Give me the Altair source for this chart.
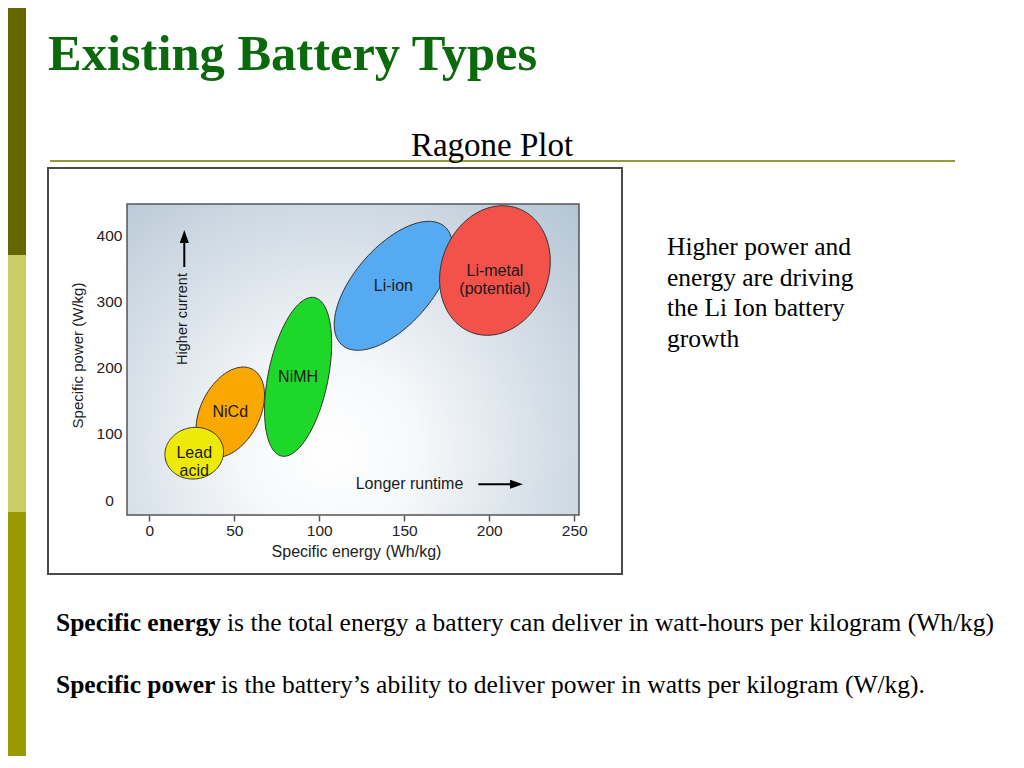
import numpy as np
import pandas as pd
import altair as alt

# ---- data ----
batteries = ["NiCd", "Lead acid", "NiMH", "Li-ion", "Li-metal (potential)"]
labels = ["NiCd", "Lead\nacid", "NiMH", "Li-ion", "Li-metal\n(potential)"]
energy_min = [27.5, 9.2, 67.8, 108.8, 170.8]     # Wh/kg
energy_max = [67.8, 43.7, 107.3, 178.4, 235.9]
power_min = [64.7, 31.9, 66.2, 226.4, 249.1]     # W/kg
power_max = [201.1, 110.0, 306.5, 421.3, 444.9]
tilt = [0.38, 0.05, 0.42, 0.60, 0.14]           # correlation of the region
x_ticks = [0, 50, 100, 150, 200, 250]
y_ticks = [0, 100, 200, 300, 400]

slide_title = "Existing Battery Types"
chart_title = "Ragone Plot"
side_note = ["Higher power and", "energy are driving", "the Li Ion battery", "growth"]
def1_bold, def1_rest = "Specific energy", "is the total energy a battery can deliver in watt-hours per kilogram (Wh/kg)"
def2_bold, def2_rest = "Specific power", "is the battery\u2019s ability to deliver power in watts per kilogram (W/kg)."

fills = ["#FAA800", "#EEEA08", "#1ED829", "#56AAF2", "#F2524A"]

W, H = 452, 311
SANS = "Liberation Sans"
SERIF = "Liberation Serif"

xscale = alt.Scale(domain=[-13.1, 252.8], nice=False, zero=False)
yscale = alt.Scale(domain=[-22.5, 447.5], nice=False, zero=False)

xaxis = alt.Axis(values=x_ticks, grid=False, domain=False, ticks=True, tickSize=6,
                 tickColor="#555555", tickWidth=1.5, labelFont=SANS, labelFontSize=15.5,
                 labelColor="#222222", labelPadding=9, labelBaseline="middle",
                 title="Specific energy (Wh/kg)", titleFont=SANS, titleFontSize=16,
                 titleFontWeight="normal", titleColor="#222222", titleX=229, titleY=36,
                 titleBaseline="middle", titleAlign="center")
yaxis = alt.Axis(values=y_ticks, grid=False, domain=False, ticks=False, tickSize=0,
                 labelFont=SANS, labelFontSize=15.5, labelColor="#222222", labelPadding=18,
                 labelAlign="center", labelBaseline="middle",
                 title="Specific power (W/kg)", titleFont=SANS, titleFontSize=15,
                 titleFontWeight="normal", titleColor="#222222", titleX=-50, titleY=151,
                 titleAngle=270, titleBaseline="middle", titleAlign="center")

one = pd.DataFrame({"a": [0]})

# background gradient of the plot area
bg = alt.Chart(one).mark_rect(
    fill=alt.RadialGradient(
        gradient="radial", x1=0.45, y1=0.7, r1=0.0, x2=0.45, y2=0.7, r2=0.78,
        stops=[alt.GradientStop(offset=0, color="#ffffff"),
               alt.GradientStop(offset=0.25, color="#f6f8fa"),
               alt.GradientStop(offset=1, color="#b3c4d3")]),
).encode(x=alt.value(0), x2=alt.value(W), y=alt.value(0), y2=alt.value(H))

border = alt.Chart(one).mark_rect(fillOpacity=0, stroke="#555555", strokeWidth=1.5).encode(
    x=alt.value(0), x2=alt.value(W), y=alt.value(0), y2=alt.value(H))

# ellipses built from the data ranges
t = np.linspace(0, 2 * np.pi, 145)
layers = [bg, border]
lab_rows = []
for i, b in enumerate(batteries):
    ec = (energy_min[i] + energy_max[i]) / 2
    ew = (energy_max[i] - energy_min[i]) / 2
    pc = (power_min[i] + power_max[i]) / 2
    ph = (power_max[i] - power_min[i]) / 2
    r = tilt[i]
    df = pd.DataFrame({
        "battery": b,
        "k": np.arange(len(t)),
        "energy": ec + ew * np.cos(t),
        "power": pc + ph * (r * np.cos(t) + np.sqrt(1 - r * r) * np.sin(t)),
    })
    layers.append(
        alt.Chart(df).mark_line(fill=fills[i], stroke="#333333", strokeWidth=1, clip=False).encode(
            x=alt.X("energy:Q", scale=xscale, axis=xaxis),
            y=alt.Y("power:Q", scale=yscale, axis=yaxis),
            order="k:Q",
        )
    )
    lab_rows.append({"label": labels[i], "energy": ec, "power": pc})

lab_df = pd.DataFrame(lab_rows)
lab = alt.Chart(lab_df).mark_text(font=SANS, fontSize=16, color="#1a1a1a", lineBreak="\n",
                                  lineHeight=18, baseline="middle", align="center").encode(
    x=alt.X("energy:Q", scale=xscale), y=alt.Y("power:Q", scale=yscale), text="label:N")
layers.append(lab)

# annotations inside the plot
ann = [
    alt.Chart(one).mark_rule(color="#000000", strokeWidth=2).encode(
        x=alt.value(57.3), y=alt.value(63), y2=alt.value(38)),
    alt.Chart(one).mark_point(shape="M0,-1L0.7,1L-0.7,1Z", filled=True, color="#000000",
                              size=169, opacity=1).encode(x=alt.value(57.3), y=alt.value(32.5)),
    alt.Chart(one).mark_text(text="Higher current", angle=270, font=SANS, fontSize=14.5,
                             color="#1a1a1a", baseline="middle", align="center").encode(
        x=alt.value(56), y=alt.value(115)),
    alt.Chart(one).mark_rule(color="#000000", strokeWidth=2).encode(
        x=alt.value(351.3), x2=alt.value(384), y=alt.value(280.3)),
    alt.Chart(one).mark_point(shape="M1,0L-1,-0.7L-1,0.7Z", filled=True, color="#000000",
                              size=169, opacity=1).encode(x=alt.value(389.5), y=alt.value(280.3)),
    alt.Chart(one).mark_text(text="Longer runtime", font=SANS, fontSize=16, color="#1a1a1a",
                             baseline="middle", align="center").encode(
        x=alt.value(282.5), y=alt.value(280)),
]
layers += ann

# slide decorations (positions relative to the plot area)
deco = [
    alt.Chart(one).mark_rect(color="#666600").encode(
        x=alt.value(-119), x2=alt.value(-101), y=alt.value(-196), y2=alt.value(51)),
    alt.Chart(one).mark_rect(color="#CCCC66").encode(
        x=alt.value(-119), x2=alt.value(-101), y=alt.value(51), y2=alt.value(308)),
    alt.Chart(one).mark_rect(color="#999900").encode(
        x=alt.value(-119), x2=alt.value(-101), y=alt.value(308), y2=alt.value(560)),
    alt.Chart(one).mark_rect(fillOpacity=0, stroke="#4a4a4a", strokeWidth=2).encode(
        x=alt.value(-79), x2=alt.value(495), y=alt.value(-36), y2=alt.value(370)),
    alt.Chart(one).mark_rule(color="#999933", strokeWidth=2).encode(
        x=alt.value(-77), x2=alt.value(828), y=alt.value(-43)),
    alt.Chart(one).mark_text(text=slide_title, font=SERIF, fontSize=50.5, fontWeight="bold",
                             color="#0a690a", align="left", baseline="alphabetic").encode(
        x=alt.value(-79), y=alt.value(-134)),
    alt.Chart(one).mark_text(text=chart_title, font=SERIF, fontSize=33, color="#000000",
                             align="center", baseline="alphabetic").encode(
        x=alt.value(365), y=alt.value(-48)),
    alt.Chart(one).mark_text(text=side_note, font=SERIF, fontSize=25.5, color="#000000",
                             align="left", baseline="alphabetic", lineHeight=30.5).encode(
        x=alt.value(540), y=alt.value(51)),
    alt.Chart(one).mark_text(text=def1_bold, font=SERIF, fontSize=25.5, fontWeight="bold",
                             color="#000000", align="left", baseline="alphabetic").encode(
        x=alt.value(-71), y=alt.value(427)),
    alt.Chart(one).mark_text(text=def1_rest, font=SERIF, fontSize=25.5, color="#000000",
                             align="left", baseline="alphabetic").encode(
        x=alt.value(100), y=alt.value(427)),
    alt.Chart(one).mark_text(text=def2_bold, font=SERIF, fontSize=25.5, fontWeight="bold",
                             color="#000000", align="left", baseline="alphabetic").encode(
        x=alt.value(-71), y=alt.value(489)),
    alt.Chart(one).mark_text(text=def2_rest, font=SERIF, fontSize=25.5, color="#000000",
                             align="left", baseline="alphabetic").encode(
        x=alt.value(94), y=alt.value(489)),
]
layers = deco[:5] + layers + deco[5:]

chart = alt.layer(*layers).properties(
    width=W, height=H,
    padding={"left": 119, "top": 196, "right": 429, "bottom": 241},
    autosize=alt.AutoSizeParams(type="none"),
    background="#ffffff",
).configure_view(stroke="transparent")

chart.save("out.html", embed_options={"renderer": "svg", "actions": False})
